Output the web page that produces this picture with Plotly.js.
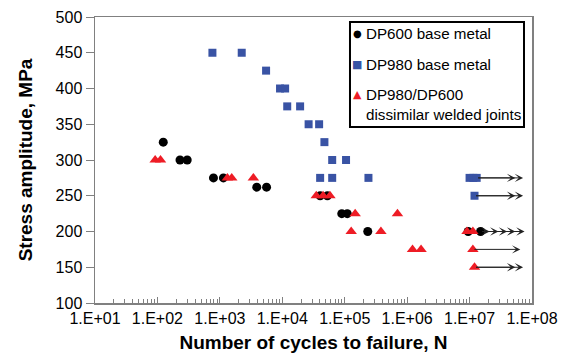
<!DOCTYPE html>
<html>
<head>
<meta charset="utf-8">
<script src="https://cdn.plot.ly/plotly-3.0.1.min.js"></script>
<style>html,body{margin:0;padding:0;background:#fff;}#chart{width:565px;height:362px;}</style>
</head>
<body>
<div id="chart"></div>
<script>
// DP600 base metal (black circles)
const dp600N = [124, 230, 300, 790, 1140, 3900, 5600, 40400, 52800, 89700, 110000, 234000, 9.5e6, 1.5e7];
const dp600S = [325, 300, 300, 275, 275, 262, 262, 250, 250, 225, 225, 200, 200, 200];
// DP980 base metal (blue squares)
const dp980N = [760, 2240, 5500, 9200, 11100, 12000, 19300, 26400, 38900, 47300, 63000, 105000, 40400, 63000, 240000, 1.0e7, 1.15e7, 1.3e7, 1.2e7];
const dp980S = [450, 450, 425, 400, 400, 375, 375, 350, 350, 325, 300, 300, 275, 275, 275, 275, 275, 275, 250];
// DP980/DP600 dissimilar welded joints (red triangles)
const weldN = [92, 112, 1320, 1550, 3440, 35000, 45000, 58000, 147000, 700000, 127000, 380000, 1.22e6, 1.67e6, 9.1e6, 1.13e7, 1.13e7, 1.2e7];
const weldS = [300, 300, 275, 275, 275, 250, 250, 250, 225, 225, 200, 200, 175, 175, 200, 200, 175, 150];
// Run-out arrows
const runoutS = [275, 250, 200, 175, 150];
const runoutFromN = [1.3e7, 1.2e7, 1.5e7, 1.13e7, 1.2e7];
const runoutTipN = [[5.4e7, 7.2e7], [5.4e7, 7.2e7], [2.1e7, 2.9e7, 4.0e7, 5.4e7, 7.6e7], [6.5e7], [5.4e7, 7.2e7]];
// Axis ticks
const xTickVals = [1e1, 1e2, 1e3, 1e4, 1e5, 1e6, 1e7, 1e8];
const xTickText = ['1.E+01', '1.E+02', '1.E+03', '1.E+04', '1.E+05', '1.E+06', '1.E+07', '1.E+08'];
// Legend entries
const seriesNames = ['DP600 base metal', 'DP980 base metal', 'DP980/DP600<br>dissimilar welded joints'];
const seriesColors = ['#000000', '#3953a4', '#ee1c25'];
const legendGlyphs = ['●', '■', '▲'];

const minorVals = [];
for (let d = 1; d < 8; d++) for (let m = 2; m <= 9; m++) minorVals.push(m * Math.pow(10, d));

const font = 'Arial, "Liberation Sans", sans-serif';

const traces = [
  {x: dp600N, y: dp600S, type: 'scatter', mode: 'markers', name: seriesNames[0],
   marker: {symbol: 'circle', size: 9, color: seriesColors[0]}},
  {x: dp980N, y: dp980S, type: 'scatter', mode: 'markers', name: seriesNames[1],
   marker: {symbol: 'square', size: 8, color: seriesColors[1]}},
  {x: weldN, y: weldS, type: 'scatter', mode: 'markers', name: seriesNames[2],
   marker: {symbol: 'triangle-up', size: 10, color: seriesColors[2]}}
];

const annotations = [];
runoutS.forEach((s, i) => {
  runoutTipN[i].forEach(t => {
    annotations.push({
      x: Math.log10(t), y: s, xref: 'x', yref: 'y',
      ax: Math.log10(runoutFromN[i]), ay: s, axref: 'x', ayref: 'y',
      text: '', showarrow: true, arrowhead: 3, arrowsize: 1.4, arrowwidth: 1, arrowcolor: '#222222'
    });
  });
});

// custom legend (paper coordinates)
const legRowY = [0.9406, 0.8322, 0.6958];
const glyphY = [0.9406, 0.8322, 0.7290];
const glyphSize = [10, 11, 11];
seriesNames.forEach((n, i) => {
  annotations.push({
    x: 0.6155, y: legRowY[i], xref: 'paper', yref: 'paper', xanchor: 'left', yanchor: 'middle',
    text: n, showarrow: false, align: 'left',
    font: {family: font, size: 15.2, color: '#000000'}
  });
  annotations.push({
    x: 0.6000, y: glyphY[i], xref: 'paper', yref: 'paper', xanchor: 'center', yanchor: 'middle',
    text: legendGlyphs[i], showarrow: false,
    font: {family: '"DejaVu Sans", sans-serif', size: glyphSize[i], color: seriesColors[i]}
  });
});

const layout = {
  width: 565, height: 362,
  margin: {l: 95, r: 33, t: 17, b: 59},
  paper_bgcolor: '#ffffff', plot_bgcolor: '#ffffff',
  font: {family: font, size: 16, color: '#000000'},
  showlegend: false,
  xaxis: {
    type: 'log', range: [1, 8],
    tickmode: 'array', tickvals: xTickVals, ticktext: xTickText,
    ticks: 'inside', ticklen: 6, tickcolor: '#808080', tickwidth: 1,
    minor: {tickmode: 'array', tickvals: minorVals, ticks: 'inside', ticklen: 4, tickcolor: '#808080', tickwidth: 1},
    showline: true, linecolor: '#808080', linewidth: 1.5, mirror: true,
    showgrid: false, zeroline: false,
    tickfont: {family: font, size: 16, color: '#000000'},
    title: {text: 'Number of cycles to failure, N', font: {family: font, size: 19, color: '#000000', weight: 'bold'}, standoff: 10}
  },
  yaxis: {
    range: [100, 500], dtick: 50, tick0: 100,
    ticks: 'outside', ticklen: 8, tickcolor: '#808080', tickwidth: 1,
    showline: true, linecolor: '#808080', linewidth: 1.5, mirror: true,
    showgrid: false, zeroline: false,
    tickfont: {family: font, size: 16, color: '#000000'},
    title: {text: 'Stress amplitude, MPa', font: {family: font, size: 19, color: '#000000', weight: 'bold'}, standoff: 18}
  },
  shapes: [{
    type: 'rect', xref: 'paper', yref: 'paper', x0: 0.5835, x1: 0.9817, y0: 0.6154, y1: 0.9825,
    line: {color: '#000000', width: 2}, fillcolor: '#ffffff', layer: 'above'
  }],
  annotations: annotations
};

Plotly.newPlot('chart', traces, layout, {displayModeBar: false, staticPlot: true});
</script>
</body>
</html>
